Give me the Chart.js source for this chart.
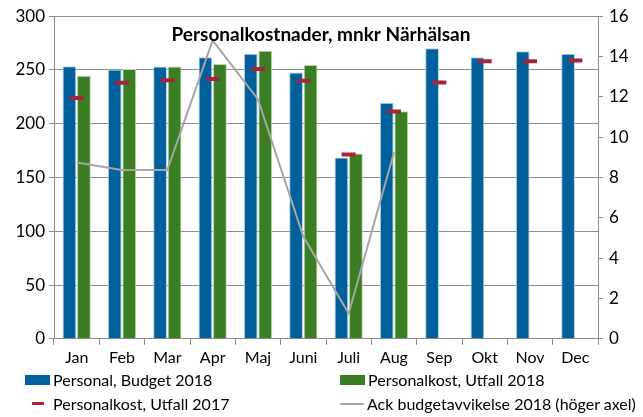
<!DOCTYPE html>
<html>
<head>
<meta charset="utf-8">
<script src="https://cdn.jsdelivr.net/npm/chart.js@4"></script>
<style>
  body { margin: 0; background: #fff; font-family: Lato, sans-serif; }
  #wrap { position: relative; width: 643px; height: 370px; }
  #legend { position: absolute; left: 0; top: 366px; width: 643px; height: 51px; }
  .item { position: absolute; display: flex; align-items: center; font-size: 16px; color: #000; white-space: nowrap; }
  .sw { display: inline-block; margin-right: 3px; }
</style>
</head>
<body>
<div id="wrap"><canvas id="c" width="643" height="370"></canvas></div>
<div id="legend"></div>
<script>
const months = ["Jan", "Feb", "Mar", "Apr", "Maj", "Juni", "Juli", "Aug", "Sep", "Okt", "Nov", "Dec"];
const budget2018 = [253.5, 250.5, 253.3, 261.8, 265, 247.7, 168.7, 219.5, 270.3, 261.8, 267.5, 265];
const utfall2018 = [244.6, 251, 253.3, 255.6, 267.8, 254.6, 172.4, 211.7, null, null, null, null];
const utfall2017 = [224, 238, 240.5, 241.5, 251, 239.9, 171.5, 211.4, 238.3, 258, 258, 258.7];
const ackAvvikelse = [8.74, 8.37, 8.37, 14.8, 11.87, 5.07, 1.25, 9.24, null, null, null, null];

const blue = '#00609c';
const green = '#3a7d22';
const red = '#a3263a';
const grey = '#a6a6a6';

// title drawn inside the plot area
const titlePlugin = {
    id: 'innerTitle',
    afterDraw(chart) {
        const ctx = chart.ctx;
        ctx.save();
        ctx.font = 'bold 19px Lato';
        ctx.fillStyle = '#000';
        ctx.textAlign = 'center';
        ctx.textBaseline = 'middle';
        ctx.fillText('Personalkostnader, mnkr Närhälsan', 321, 35);
        ctx.restore();
    }
};

const ctx = document.getElementById('c').getContext('2d');
const chart = new Chart(ctx, {
    data: {
        labels: months,
        datasets: [
            {
                type: 'line',
                label: 'Personalkost, Utfall 2017',
                data: utfall2017,
                showLine: false,
                pointStyle: 'line',
                pointRadius: 7,
                pointHoverRadius: 7,
                pointBorderWidth: 4,
                borderColor: red,
                backgroundColor: red,
                order: 0,
                yAxisID: 'y'
            },
            {
                type: 'line',
                label: 'Ack budgetavvikelse 2018 (höger axel)',
                data: ackAvvikelse,
                borderColor: grey,
                backgroundColor: grey,
                borderWidth: 2,
                pointRadius: 0,
                tension: 0,
                order: 1,
                yAxisID: 'y1'
            },
            {
                type: 'bar',
                label: 'Personal, Budget 2018',
                data: budget2018,
                backgroundColor: blue,
                borderColor: '#b8d3e6',
                borderWidth: 1,
                barPercentage: 0.95,
                categoryPercentage: 0.64,
                order: 2,
                yAxisID: 'y'
            },
            {
                type: 'bar',
                label: 'Personalkost, Utfall 2018',
                data: utfall2018,
                backgroundColor: green,
                borderColor: '#b9d6ad',
                borderWidth: 1,
                barPercentage: 0.95,
                categoryPercentage: 0.64,
                order: 2,
                yAxisID: 'y'
            }
        ]
    },
    options: {
        responsive: false,
        animation: false,
        layout: { padding: { top: 10, bottom: 0, left: 0, right: 0 } },
        plugins: {
            legend: { display: false },
            tooltip: { enabled: false }
        },
        scales: {
            x: {
                offset: true,
                grid: { offset: true, drawOnChartArea: false, drawTicks: true, tickLength: 6, color: '#8c8c8c' },
                border: { color: '#8c8c8c' },
                ticks: { color: '#000', font: { family: 'Lato', size: 16 }, padding: 3 }
            },
            y: {
                position: 'left',
                min: 0, max: 300,
                afterFit(scale) { scale.width = 54; },
                grid: { color: '#8c8c8c', tickLength: 5 },
                border: { color: '#8c8c8c' },
                ticks: { stepSize: 50, color: '#000', font: { family: 'Lato', size: 17 }, padding: 4 }
            },
            y1: {
                position: 'right',
                min: 0, max: 16,
                afterFit(scale) { scale.width = 45; },
                grid: { drawOnChartArea: false, color: '#8c8c8c', tickLength: 5 },
                border: { color: '#8c8c8c' },
                ticks: { stepSize: 2, color: '#000', font: { family: 'Lato', size: 17 }, padding: 6 }
            }
        }
    },
    plugins: [titlePlugin]
});

// two-column legend like the original
const legendItems = [
    { label: 'Personal, Budget 2018', kind: 'box', color: blue, x: 25, y: 4 },
    { label: 'Personalkost, Utfall 2018', kind: 'box', color: green, x: 340, y: 4 },
    { label: 'Personalkost, Utfall 2017', kind: 'dash', color: red, x: 25, y: 28 },
    { label: 'Ack budgetavvikelse 2018 (höger axel)', kind: 'line', color: grey, x: 340, y: 28 }
];
const legend = document.getElementById('legend');
legendItems.forEach(it => {
    const d = document.createElement('div');
    d.className = 'item';
    d.style.left = it.x + 'px';
    d.style.top = it.y + 'px';
    const sw = document.createElement('span');
    sw.className = 'sw';
    if (it.kind === 'box') {
        sw.style.width = '25px'; sw.style.height = '10px'; sw.style.background = it.color;
    } else if (it.kind === 'dash') {
        sw.style.width = '12px'; sw.style.height = '3px'; sw.style.background = it.color;
        sw.style.margin = '0 9px 0 7px';
    } else {
        sw.style.width = '24px'; sw.style.height = '2px'; sw.style.background = it.color;
    }
    d.appendChild(sw);
    d.appendChild(document.createTextNode(it.label));
    legend.appendChild(d);
});
</script>
</body>
</html>
